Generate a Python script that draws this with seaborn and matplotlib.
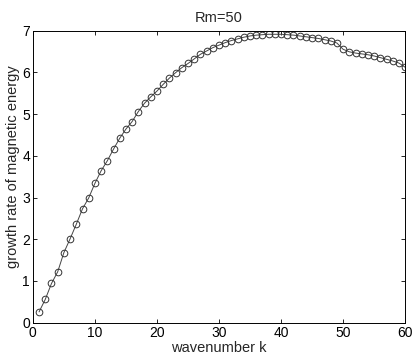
import numpy as np
import pandas as pd
import matplotlib
matplotlib.use("Agg")
import matplotlib.pyplot as plt
import seaborn as sns

# wavenumbers and growth rates
k = list(range(1, 61))
growth = [
    0.26, 0.56, 0.94, 1.22, 1.68, 2.01, 2.36, 2.73, 2.99, 3.34,
    3.64, 3.88, 4.16, 4.42, 4.64, 4.82, 5.06, 5.26, 5.41, 5.55,
    5.71, 5.86, 5.99, 6.11, 6.21, 6.32, 6.43, 6.51, 6.59, 6.65,
    6.71, 6.76, 6.80, 6.84, 6.87, 6.89, 6.90, 6.91, 6.91, 6.91,
    6.90, 6.89, 6.87, 6.85, 6.83, 6.81, 6.78, 6.75, 6.70, 6.55,
    6.49, 6.46, 6.44, 6.42, 6.39, 6.35, 6.31, 6.27, 6.22, 6.12,
]
xticks = [0, 10, 20, 30, 40, 50, 60]
yticks = [0, 1, 2, 3, 4, 5, 6, 7]

df = pd.DataFrame({"k": k, "growth": growth})

sns.set_style("ticks")
plt.rcParams['font.family'] = ['Liberation Sans', 'DejaVu Sans']

fig = plt.figure(figsize=(4.16, 3.59), dpi=100)
ax = fig.add_axes([0.079, 0.101, 0.895, 0.814])

sns.lineplot(data=df, x="k", y="growth", ax=ax, color="#444444", linewidth=0.7,
             marker="o", markersize=4.8, markerfacecolor="none",
             markeredgecolor="#333333", markeredgewidth=0.7)

ax.set_xlim(0, 60)
ax.set_ylim(0, 7)
ax.set_xticks(xticks)
ax.set_yticks(yticks)
ax.tick_params(direction="in", top=True, right=True, length=3, width=0.6,
               labelsize=10, colors="black", pad=2)
for s in ax.spines.values():
    s.set_visible(True)
    s.set_linewidth(0.7)
    s.set_color("black")

ax.set_xlabel("wavenumber k", fontsize=10.5, labelpad=1)
ax.set_ylabel("growth rate of magnetic energy", fontsize=10.5)
ax.yaxis.set_label_coords(-0.035, 0.535)
ax.set_title("Rm=50", fontsize=10.5, pad=6)

fig.savefig("out.png", dpi=100)
